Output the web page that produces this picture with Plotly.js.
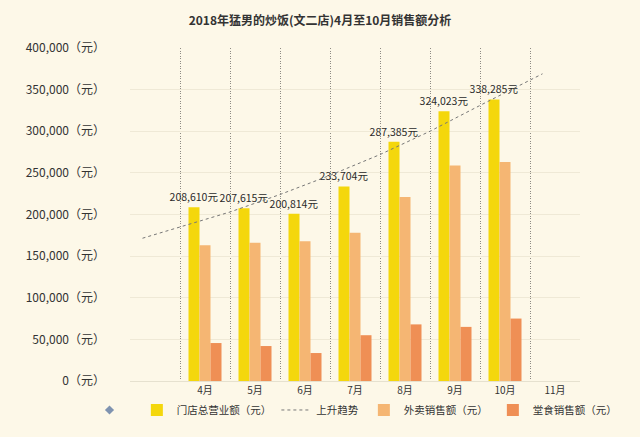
<!DOCTYPE html>
<html><head><meta charset="utf-8">
<script src="https://cdn.plot.ly/plotly-3.0.1.min.js"></script>
<style>html,body{margin:0;padding:0;background:#fdf8e8;}#chart{width:640px;height:437px;}</style>
</head><body><div id="chart"></div>
<script>
// Data
const monthLabels = ['4月','5月','6月','7月','8月','9月','10月','11月'];
const monthPos = [1,2,3,4,5,6,7,8];
const barPos = [1,2,3,4,5,6,7];
const storeTotal = [208610, 207615, 200814, 233704, 287385, 324023, 338285];
const delivery = [163000, 166000, 168000, 178000, 221000, 259000, 263000];
const dineIn = [45600, 42000, 33600, 55000, 68000, 65000, 75000];
const trendX = [-0.25, 0.5, 1.5, 2.5, 3.5, 4.5, 5.5, 6.5, 7.75];
const trendY = [171500, 185000, 203000, 224000, 247000, 272000, 300000, 331000, 369000];
const yTicks = [0, 50000, 100000, 150000, 200000, 250000, 300000, 350000, 400000];
const yTickText = ['0（元）','50,000（元）','100,000（元）','150,000（元）','200,000（元）','250,000（元）','300,000（元）','350,000（元）','400,000（元）'];

const font = "'Noto Sans CJK SC', 'Noto Sans', sans-serif";
const traces = [
  {type:'scatter', x:[null], y:[null], mode:'markers', name:' ',
   marker:{symbol:'diamond', color:'#7f93b0', size:7}, showlegend:true, hoverinfo:'skip'},
  {type:'bar', x:barPos, y:storeTotal, name:'门店总营业额（元）',
   marker:{color:'#f4d70c'}, texttemplate:'%{y:,}元', textposition:'outside', constraintext:'none',
   textfont:{size:10.5, color:'#2a2a2a', family:font}, cliponaxis:false},
  {type:'scatter', x:trendX, y:trendY, mode:'lines', name:'上升趋势',
   line:{color:'#777', width:1, dash:'dot'}},
  {type:'bar', x:barPos, y:delivery, name:'外卖销售额（元）', marker:{color:'#f5b673'}},
  {type:'bar', x:barPos, y:dineIn, name:'堂食销售额（元）', marker:{color:'#ef8f55'}}
];

const layout = {
  width:640, height:437,
  paper_bgcolor:'#fdf8e8', plot_bgcolor:'#fdf8e8',
  margin:{l:130, r:60, t:48, b:56},
  font:{family:font, color:'#333'},
  title:{text:'2018年猛男的炒饭(文二店)4月至10月销售额分析', x:0.5, xanchor:'center', y:0.952, yanchor:'middle',
    font:{size:12, color:'#333', family:font, weight:'bold'}},
  barmode:'group', bargap:0.34, bargroupgap:0,
  xaxis:{range:[-0.5, 8.5], tickvals:monthPos, ticktext:monthLabels, showgrid:false,
    tickfont:{size:10, color:'#333'}, zeroline:false, showline:true, linecolor:'#e6e1cf', linewidth:1,
    ticks:'', fixedrange:true,
    minor:{tick0:0.5, dtick:1, showgrid:true, gridcolor:'#8f8c84', griddash:'1px,1.5px', gridwidth:1, ticks:''}},
  yaxis:{range:[0, 400000], tickvals:yTicks, ticktext:yTickText, showgrid:true, gridcolor:'#efe9d6',
    gridwidth:1, zeroline:false, tickfont:{size:12, color:'#333'}, ticks:'', ticklabelstandoff:24},
  legend:{orientation:'h', x:-0.09, xanchor:'left', y:-0.087, yanchor:'middle',
    font:{size:10.5, color:'#333', family:font}, bgcolor:'rgba(0,0,0,0)', traceorder:'normal',
    itemwidth:30}
};
Plotly.newPlot('chart', traces, layout, {displayModeBar:false, staticPlot:true});
</script></body></html>
